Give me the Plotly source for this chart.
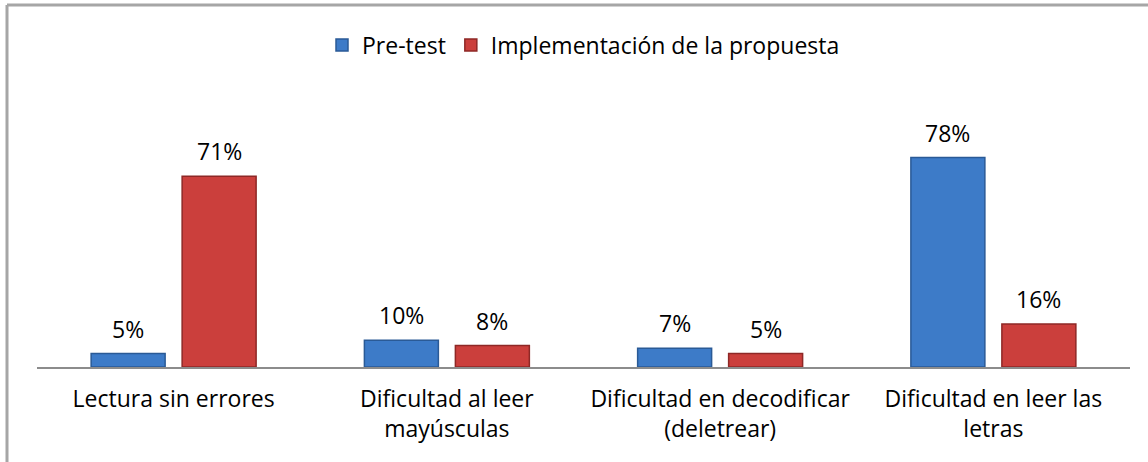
import plotly.graph_objects as go

# Categories and values
categorias = [
    "Lectura sin errores",
    "Dificultad al leer<br>mayúsculas",
    "Dificultad en decodificar<br>(deletrear)",
    "Dificultad en leer las<br>letras",
]
pre_test = [5, 10, 7, 78]
implementacion = [71, 8, 5, 16]

W, H = 1148, 462
L, R, T, B = 37, 18, 60, 95
pw, ph = W - L - R, H - T - B

def px_x(x):
    return (x - L) / pw

def px_y(y):
    return (H - B - y) / ph

fuente = "'Open Sans', Lato, sans-serif"
fs = 23

fig = go.Figure()
fig.add_trace(go.Bar(
    x=categorias, y=pre_test, name="Pre-test",
    marker=dict(color="#3D7BC8", line=dict(color="#2A5A96", width=1.5)),
))
fig.add_trace(go.Bar(
    x=categorias, y=implementacion, name="Implementación de la propuesta",
    marker=dict(color="#CB3F3C", line=dict(color="#8E2826", width=1.5)),
))

# value labels above each bar
for serie, dx in ((pre_test, -45.5), (implementacion, 45.5)):
    for cat, v in zip(categorias, serie):
        fig.add_annotation(x=cat, y=v, text=f"{v}%", showarrow=False,
                           xshift=dx, yshift=25, yanchor="middle",
                           font=dict(size=fs, color="#000000", family=fuente))

# chart frame (top and left edges only visible in the reference)
borde = dict(color="#A6A6A6", width=3)
fig.add_shape(type="line", xref="paper", yref="paper",
              x0=px_x(7), x1=px_x(W + 5), y0=px_y(5), y1=px_y(5), line=borde)
fig.add_shape(type="line", xref="paper", yref="paper",
              x0=px_x(7), x1=px_x(7), y0=px_y(5), y1=px_y(H + 5), line=borde)

fig.update_layout(
    width=W, height=H,
    margin=dict(l=L, r=R, t=T, b=B),
    paper_bgcolor="white", plot_bgcolor="white",
    barmode="group", bargap=0.334, bargroupgap=0.187,
    font=dict(family=fuente, size=fs, color="#000000"),
    showlegend=True,
    legend=dict(orientation="h", x=0.5, xanchor="center",
                y=px_y(45), yanchor="middle",
                font=dict(size=fs), itemwidth=30, traceorder="normal"),
    xaxis=dict(showline=True, linecolor="#8C8C8C", linewidth=2,
               ticks="", showgrid=False, tickfont=dict(size=fs),
               ticklabelstandoff=10),
    yaxis=dict(range=[0, ph / 2.685], visible=False, showgrid=False),
)

fig.write_html("out.html", config={"displayModeBar": False},
               post_script="document.body.style.margin='0';")
